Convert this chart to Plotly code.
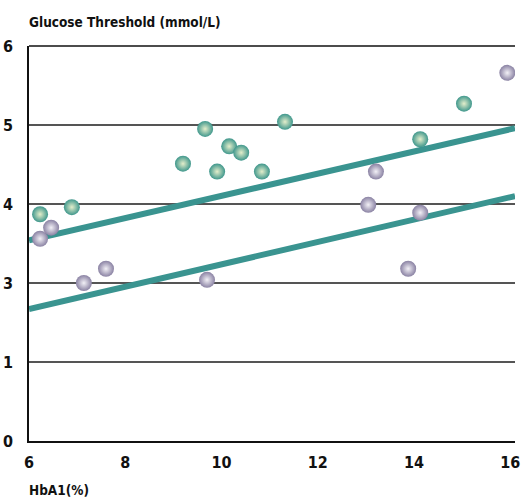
import plotly.graph_objects as go

# ---- data (y in mmol/L as labelled) ----
green_x = [6.23, 6.89, 9.20, 9.66, 9.91, 10.16, 10.41, 10.84, 11.32, 14.13, 15.04]
green_y = [3.87, 3.96, 4.51, 4.95, 4.41, 4.73, 4.65, 4.41, 5.04, 4.82, 5.27]
purple_x = [6.23, 6.46, 7.14, 7.60, 9.70, 13.05, 13.21, 13.88, 14.13, 15.94]
purple_y = [3.56, 3.70, 3.00, 3.18, 3.04, 3.99, 4.41, 3.18, 3.89, 5.66]
upper_line_x = [6.0, 16.1]
upper_line_y = [3.54, 4.96]
lower_line_x = [6.0, 16.1]
lower_line_y = [2.34, 4.10]
y_tick_labels = ["0", "1", "3", "4", "5", "6"]
x_tick_vals = [6, 8, 10, 12, 14, 16]

# the printed axis places its labels 0,1,3,4,5,6 at equal steps
def to_pos(v):
    if v >= 3:
        return v - 1
    if v >= 1:
        return 1 + (v - 1) / 2
    return v

def pos(vals):
    return [to_pos(v) for v in vals]

FONT = "Liberation Sans Narrow, DejaVu Sans Condensed, Arial Narrow, sans-serif"
TEAL = "#3a9490"
L, R, T, B = 29, 6, 46, 60
W, H = 521, 501

fig = go.Figure()
fig.add_trace(go.Scatter(x=upper_line_x, y=pos(upper_line_y), mode="lines",
                         line=dict(color=TEAL, width=6), hoverinfo="skip"))
fig.add_trace(go.Scatter(x=lower_line_x, y=pos(lower_line_y), mode="lines",
                         line=dict(color=TEAL, width=6), hoverinfo="skip"))
fig.add_trace(go.Scatter(x=green_x, y=pos(green_y), mode="markers",
                         marker=dict(size=16, color="#3f978c",
                                     gradient=dict(type="radial", color="#e4eecb"),
                                     line=dict(width=0))))
fig.add_trace(go.Scatter(x=purple_x, y=pos(purple_y), mode="markers",
                         marker=dict(size=16, color="#8a82a3",
                                     gradient=dict(type="radial", color="#f2f0f6"),
                                     line=dict(width=0))))

tickfont = dict(family=FONT, size=16, color="#111111", weight="bold")
fig.update_layout(
    width=W, height=H,
    margin=dict(l=L, r=R, t=T, b=B, autoexpand=False),
    paper_bgcolor="white", plot_bgcolor="white",
    showlegend=False,
    font=dict(family=FONT, size=15, color="#111111"),
    xaxis=dict(range=[6, 16.1], tickvals=x_tick_vals, showgrid=False,
               showline=True, linecolor="#111111", linewidth=1.5,
               ticks="outside", ticklen=6, tickcolor="rgba(0,0,0,0)",
               zeroline=False, automargin=False, tickfont=tickfont),
    yaxis=dict(range=[0, 5], tickvals=[0, 1, 2, 3, 4, 5], ticktext=y_tick_labels,
               showgrid=True, gridcolor="#555555", gridwidth=1.5,
               showline=True, linecolor="#111111", linewidth=1.5,
               ticks="outside", ticklen=11, tickcolor="rgba(0,0,0,0)",
               zeroline=False, automargin=False, tickfont=tickfont),
)
pw, ph = W - L - R, H - T - B
def ann(text, px, py):
    fig.add_annotation(text=text, x=(px - L) / pw, y=(H - py - B) / ph,
                       xref="paper", yref="paper", showarrow=False,
                       xanchor="left", yanchor="middle",
                       font=dict(family=FONT, size=13.5, color="#111111", weight="bold"))
ann("Glucose Threshold (mmol/L)", 27, 22)
ann("HbA1(%)", 27, 490)

fig.add_shape(type="line", xref="paper", yref="paper", x0=0, x1=1, y0=1, y1=1,
              line=dict(color="#111111", width=1.5))

fig.write_html("out.html", config={"displayModeBar": False},
               post_script="document.body.style.margin='0px';document.body.style.padding='0px';")
